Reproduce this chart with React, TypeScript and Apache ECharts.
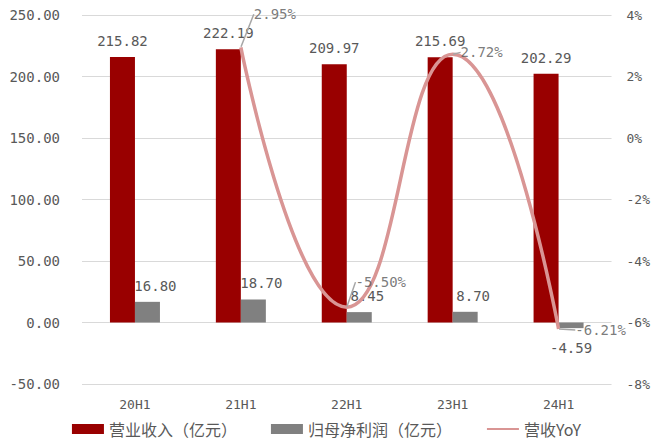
import React, { useEffect, useRef } from "react";
import * as echarts from "echarts";

const categories = ["20H1", "21H1", "22H1", "23H1", "24H1"];
const revenue = [215.82, 222.19, 209.97, 215.69, 202.29];
const netProfit = [16.8, 18.7, 8.45, 8.7, -4.59];
const revenueYoY: (number | null)[] = [null, 2.95, -5.5, 2.72, -6.21];
const leftTicks = { min: -50, max: 250, interval: 50 };
const rightTicks = { min: -8, max: 4, interval: 2 };

const NUM_FONT = "DejaVu Sans Mono";
const CJK_FONT = "Noto Sans CJK SC";
const TEXT = "#595959";

const yoyLabelShift = [
  [0, 0],
  [34, -33],
  [34, -25],
  [29, -2],
  [42, 1],
];

export default function App() {
  const ref = useRef<HTMLDivElement>(null);
  useEffect(() => {
    if (!ref.current) return;
    const chart = echarts.init(ref.current, undefined, { renderer: "svg" });
    chart.setOption({
      animation: false,
      grid: { left: 82, right: 41, top: 15, bottom: 64, containLabel: false },
      legend: {
        bottom: 6,
        left: "center",
        itemWidth: 32,
        itemHeight: 10,
        itemGap: 34,
        textStyle: { color: TEXT, fontSize: 16, fontFamily: CJK_FONT },
        data: [
          { name: "营业收入（亿元）", icon: "rect" },
          { name: "归母净利润（亿元）", icon: "rect" },
          {
            name: "营收YoY",
            itemStyle: { color: "rgba(0,0,0,0)", borderWidth: 0, opacity: 0 },
          },
        ],
      },
      xAxis: {
        type: "category",
        data: categories,
        axisLine: { show: false, onZero: false },
        axisTick: { show: false },
        axisLabel: { color: TEXT, fontSize: 13, fontFamily: NUM_FONT, margin: 14 },
      },
      yAxis: [
        {
          type: "value",
          min: leftTicks.min,
          max: leftTicks.max,
          interval: leftTicks.interval,
          axisLine: { show: false },
          axisTick: { show: false },
          splitLine: { lineStyle: { color: "#D9D9D9", width: 1 } },
          axisLabel: {
            color: TEXT,
            fontSize: 14,
            fontFamily: NUM_FONT,
            margin: 22,
            formatter: (v: number) => v.toFixed(2),
          },
        },
        {
          type: "value",
          min: rightTicks.min,
          max: rightTicks.max,
          interval: rightTicks.interval,
          axisLine: { show: false },
          axisTick: { show: false },
          splitLine: { show: false },
          axisLabel: {
            color: TEXT,
            fontSize: 13,
            fontFamily: NUM_FONT,
            margin: 15,
            formatter: (v: number) => `${v}%`,
          },
        },
      ],
      series: [
        {
          name: "营业收入（亿元）",
          type: "bar",
          data: revenue,
          barWidth: 25,
          barGap: "0%",
          itemStyle: { color: "#990000" },
          label: {
            show: true,
            position: "top",
            distance: 9,
            color: TEXT,
            fontSize: 14,
            fontFamily: NUM_FONT,
            formatter: (p: any) => p.value.toFixed(2),
          },
        },
        {
          name: "归母净利润（亿元）",
          type: "bar",
          data: netProfit.map((v) => ({
            value: v,
            label: v < 0 ? { position: "bottom", offset: [0, 4] } : undefined,
          })),
          barWidth: 25,
          barGap: "0%",
          itemStyle: { color: "#808080" },
          label: {
            show: true,
            position: "top",
            distance: 9,
            offset: [8, 0],
            color: TEXT,
            fontSize: 14,
            fontFamily: NUM_FONT,
            formatter: (p: any) => Number(p.value).toFixed(2),
          },
        },
        {
          name: "营收YoY",
          type: "line",
          yAxisIndex: 1,
          data: revenueYoY.map((v) => (v === null ? "-" : v)),
          smooth: 0.5,
          symbol: "none",
          lineStyle: { color: "#D99594", width: 3.5 },
          itemStyle: { color: "#D99594" },
          z: 5,
        },
        {
          name: "yoyLabels",
          type: "scatter",
          yAxisIndex: 1,
          data: revenueYoY.map((v) => (v === null ? "-" : v)),
          symbolSize: 1,
          itemStyle: { color: "rgba(0,0,0,0)" },
          silent: true,
          z: 6,
          label: {
            show: true,
            position: "inside",
            color: TEXT,
            fontSize: 14,
            fontFamily: NUM_FONT,
            formatter: (p: any) => `${Number(p.value).toFixed(2)}%`,
          },
          labelLine: { show: true, lineStyle: { color: "#A6A6A6", width: 1.5 } },
          labelLayout: (params: any) => {
            const s = yoyLabelShift[params.dataIndex] || [0, 0];
            return { dx: s[0], dy: s[1] };
          },
        },
      ],
    });
    return () => chart.dispose();
  }, []);
  return (
    <div
      ref={ref}
      style={{ position: "fixed", left: 0, top: 0, width: 653, height: 448, background: "#fff" }}
    />
  );
}
